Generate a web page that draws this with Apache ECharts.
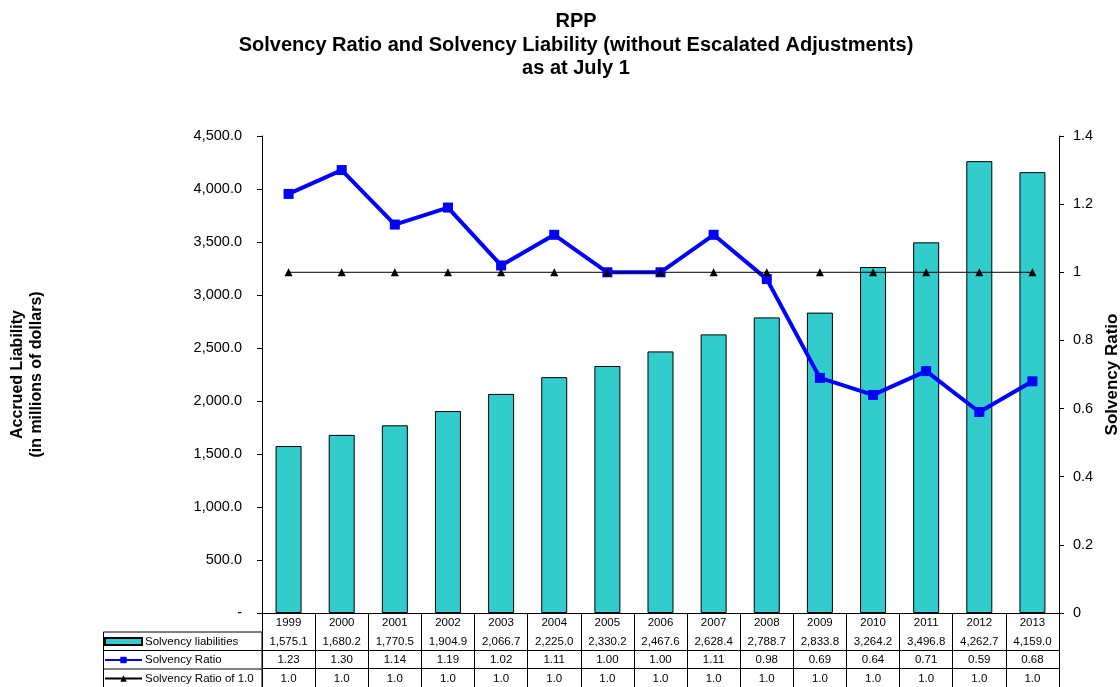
<!DOCTYPE html>
<html><head><meta charset="utf-8">
<script src="https://cdn.jsdelivr.net/npm/echarts@6/dist/echarts.min.js"></script>
<style>html,body{margin:0;padding:0;background:#fff}#c{width:1120px;height:687px}</style>
</head><body><div id="c"></div>
<script>
const years = ['1999','2000','2001','2002','2003','2004','2005','2006','2007','2008','2009','2010','2011','2012','2013'];
const liabilities = [1575.1,1680.2,1770.5,1904.9,2066.7,2225.0,2330.2,2467.6,2628.4,2788.7,2833.8,3264.2,3496.8,4262.7,4159.0];
const ratio = [1.23,1.30,1.14,1.19,1.02,1.11,1.00,1.00,1.11,0.98,0.69,0.64,0.71,0.59,0.68];
const ratioOne = [1.0,1.0,1.0,1.0,1.0,1.0,1.0,1.0,1.0,1.0,1.0,1.0,1.0,1.0,1.0];
const seriesNames = ['Solvency liabilities','Solvency Ratio','Solvency Ratio of 1.0'];

const G = {left:262, right:61, top:136, bottom:74};
const rowH = 18.5;
const tableTop = 687 - G.bottom;
const F = 'Arial, "Liberation Sans", sans-serif';

function fmt1(v){ return v.toLocaleString('en-US',{minimumFractionDigits:1,maximumFractionDigits:1}); }

function rowAxis(k, fn){
  return {
    type:'category', data:years, gridIndex:0, position:'bottom', offset:rowH*k,
    axisLine:{show:true, lineStyle:{color:'#000', width:1}},
    axisTick:{show:false},
    axisLabel:{margin:4, fontSize:11.5, fontFamily:F, color:'#000', interval:0, formatter:(v,i)=>fn(i)}
  };
}

const chart = echarts.init(document.getElementById('c'));
chart.setOption({
  animation:false,
  textStyle:{fontFamily:F},
  title:{text:'RPP\nSolvency Ratio and Solvency Liability (without Escalated Adjustments)\nas at July 1',
    left:571, top:5, textAlign:'center',
    textStyle:{fontSize:20, fontWeight:'bold', color:'#000', lineHeight:23.5, fontFamily:F}},
  grid:{left:G.left, right:G.right, top:G.top, bottom:G.bottom, containLabel:false, outerBoundsMode:'none'},
  legend:[0,1,2].map(k=>({
    data:[k===0 ? {name:seriesNames[k], icon:'rect'} : seriesNames[k]],
    orient:'vertical', left:104, top:tableTop+rowH*(k+1)+4,
    itemWidth:37, itemHeight:k===0 ? 7 : 8, itemGap:0, padding:0,
    textStyle:{fontSize:11.5, color:'#000', fontFamily:F, padding:[0,0,0,-2]},
    selectedMode:false
  })),
  xAxis:[
    {type:'category', data:years, gridIndex:0, position:'bottom',
     axisLine:{show:true, lineStyle:{color:'#000', width:1}},
     axisTick:{show:true, length:G.bottom, lineStyle:{color:'#000', width:1}, interval:0},
     axisLabel:{margin:4, fontSize:11.5, fontFamily:F, color:'#000', interval:0}},
    rowAxis(1, i=>fmt1(liabilities[i])),
    rowAxis(2, i=>ratio[i].toFixed(2)),
    rowAxis(3, i=>ratioOne[i].toFixed(1))
  ],
  yAxis:[
    {type:'value', min:0, max:4500, interval:500, position:'left',
     name:'Accrued Liability\n(in millions of dollars)', nameLocation:'middle', nameGap:216, nameRotate:90,
     nameTextStyle:{fontSize:16, fontWeight:'bold', color:'#000', lineHeight:19, fontFamily:F},
     axisLine:{show:true, lineStyle:{color:'#000'}},
     axisTick:{show:true, length:5, lineStyle:{color:'#000'}},
     splitLine:{show:false},
     axisLabel:{margin:20, fontSize:14.5, color:'#000', fontFamily:F,
       formatter:v=> v===0 ? '-' : fmt1(v)}},
    {type:'value', min:0, max:1.4, interval:0.2, position:'right',
     name:'Solvency Ratio', nameLocation:'middle', nameGap:42, nameRotate:90,
     nameTextStyle:{fontSize:17, fontWeight:'bold', color:'#000', fontFamily:F},
     axisLine:{show:true, lineStyle:{color:'#000'}},
     axisTick:{show:true, length:5, lineStyle:{color:'#000'}},
     splitLine:{show:false},
     axisLabel:{margin:14, fontSize:14.5, color:'#000', fontFamily:F,
       formatter:v=> String(Math.round(v*10)/10)}}
  ],
  graphic:[
    {type:'rect', shape:{x:103.5, y:tableTop+rowH+0.5, width:G.left-103.5, height:687-(tableTop+rowH)},
     style:{fill:'none', stroke:'#000', lineWidth:1}, silent:true},
    {type:'line', shape:{x1:103.5, y1:tableTop+rowH*2+0.5, x2:G.left, y2:tableTop+rowH*2+0.5}, style:{stroke:'#000', lineWidth:1}, silent:true},
    {type:'line', shape:{x1:103.5, y1:tableTop+rowH*3+0.5, x2:G.left, y2:tableTop+rowH*3+0.5}, style:{stroke:'#000', lineWidth:1}, silent:true}
  ],
  series:[
    {name:seriesNames[0], type:'bar', xAxisIndex:0, yAxisIndex:0, data:liabilities, barWidth:26,
     itemStyle:{color:'#33CCCC', borderColor:'#000', borderWidth:1}},
    {name:seriesNames[1], type:'line', xAxisIndex:0, yAxisIndex:1, data:ratio,
     symbol:'rect', symbolSize:10, lineStyle:{color:'#0000FF', width:4}, itemStyle:{color:'#0000FF'}},
    {name:seriesNames[2], type:'line', xAxisIndex:0, yAxisIndex:1, data:ratioOne,
     symbol:'triangle', symbolSize:8, lineStyle:{color:'#000', width:1}, itemStyle:{color:'#000'}}
  ]
});
</script></body></html>
